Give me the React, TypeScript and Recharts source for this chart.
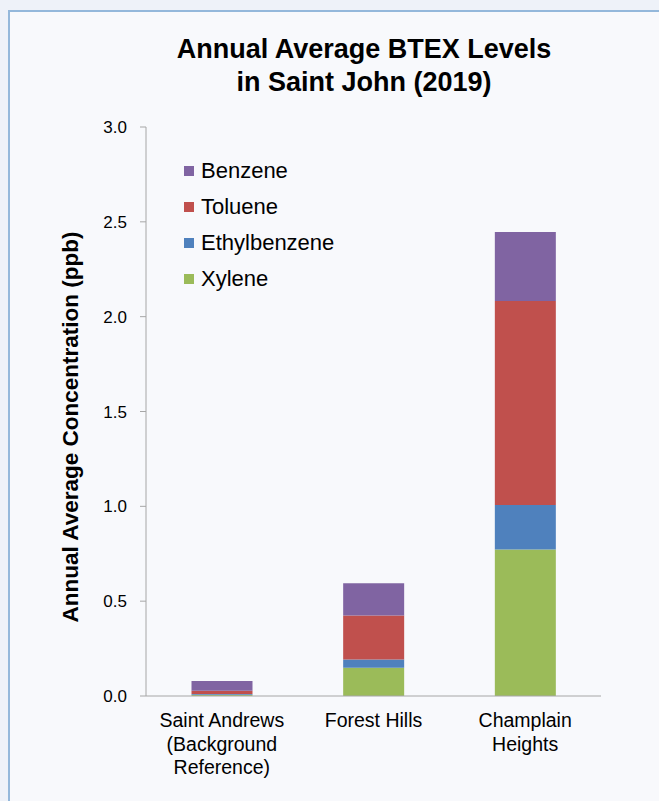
import React from "react";
import { BarChart, Bar, XAxis, YAxis } from "recharts";

const categories = ["Saint Andrews\n(Background\nReference)", "Forest Hills", "Champlain\nHeights"];
const xylene = [0.006, 0.149, 0.773];
const ethylbenzene = [0.005, 0.044, 0.234];
const toluene = [0.017, 0.232, 1.075];
const benzene = [0.051, 0.169, 0.364];
const yTicks = [0, 0.5, 1.0, 1.5, 2.0, 2.5, 3.0];

const series = [
  { key: "xylene", name: "Xylene", color: "#9bbb59", values: xylene },
  { key: "ethylbenzene", name: "Ethylbenzene", color: "#4f81bd", values: ethylbenzene },
  { key: "toluene", name: "Toluene", color: "#c0504d", values: toluene },
  { key: "benzene", name: "Benzene", color: "#8064a2", values: benzene },
];

const data = categories.map((c, i) => {
  const row: any = { name: c, idx: i };
  series.forEach((s) => (row[s.key] = s.values[i]));
  return row;
});

const FONT = "'Liberation Sans', Arial, sans-serif";

const CatTick = (props: any) => {
  const { x, y, payload } = props;
  const lines = String(payload.value).split("\n");
  return (
    <g>
      {lines.map((l, i) => (
        <text key={i} x={x} y={y + 23 + i * 23.5} textAnchor="middle" fontSize={19.5} fill="#000" fontFamily={FONT}>
          {l}
        </text>
      ))}
    </g>
  );
};

export default function App() {
  return (
    <div style={{ position: "fixed", left: 0, top: 0, width: 659, height: 801, background: "#eef2f9", overflow: "hidden", fontFamily: FONT }}>
      <div style={{ position: "absolute", left: 8, top: 10, width: 680, height: 820, background: "#f8f9fc", border: "2px solid #94b8db", boxSizing: "border-box" }} />
      <div style={{ position: "absolute", left: 0, top: 33, width: 728, textAlign: "center", fontWeight: "bold", fontSize: 27, lineHeight: "33px", color: "#000" }}>
        Annual Average BTEX Levels
        <br />
        in Saint John (2019)
      </div>
      <div style={{ position: "absolute", left: 71, top: 427, width: 0, height: 0 }}>
        <div style={{ position: "absolute", transform: "translate(-50%, -50%) rotate(-90deg)", whiteSpace: "nowrap", fontWeight: "bold", fontSize: 22.5, color: "#000" }}>
          Annual Average Concentration (ppb)
        </div>
      </div>
      <div style={{ position: "absolute", left: 184, top: 153 }}>
        {[...series].reverse().map((s) => (
          <div key={s.key} style={{ display: "flex", alignItems: "center", height: 36 }}>
            <div style={{ width: 10, height: 10, background: s.color, marginRight: 7 }} />
            <span style={{ fontSize: 22, color: "#000" }}>{s.name}</span>
          </div>
        ))}
      </div>
      <div style={{ position: "absolute", left: 0, top: 0 }}>
        <BarChart width={659} height={801} data={data} margin={{ top: 127, right: 58, bottom: 45, left: 86 }} barCategoryGap="30%">
          <XAxis xAxisId="b" type="number" dataKey="idx" domain={[0, 3]} ticks={[0, 1, 2, 3]} height={0} tickSize={5} tickLine={{ stroke: "#a6a6a6" }} axisLine={{ stroke: "#a6a6a6" }} tick={{ fill: "none", fontSize: 1 }} allowDataOverflow />
          <XAxis xAxisId="c" dataKey="name" height={60} tick={<CatTick />} tickLine={false} axisLine={{ stroke: "#a6a6a6" }} interval={0} />
          <YAxis width={60} domain={[0, 3]} ticks={yTicks} tickFormatter={(v: number) => v.toFixed(1)} tickSize={6} tickMargin={13} tickLine={{ stroke: "#a6a6a6" }} axisLine={{ stroke: "#a6a6a6" }} tick={{ fill: "#000", fontSize: 17, fontFamily: FONT }} />
          {series.map((s) => (
            <Bar key={s.key} xAxisId="c" dataKey={s.key} name={s.name} stackId="a" fill={s.color} isAnimationActive={false} />
          ))}
        </BarChart>
      </div>
    </div>
  );
}
